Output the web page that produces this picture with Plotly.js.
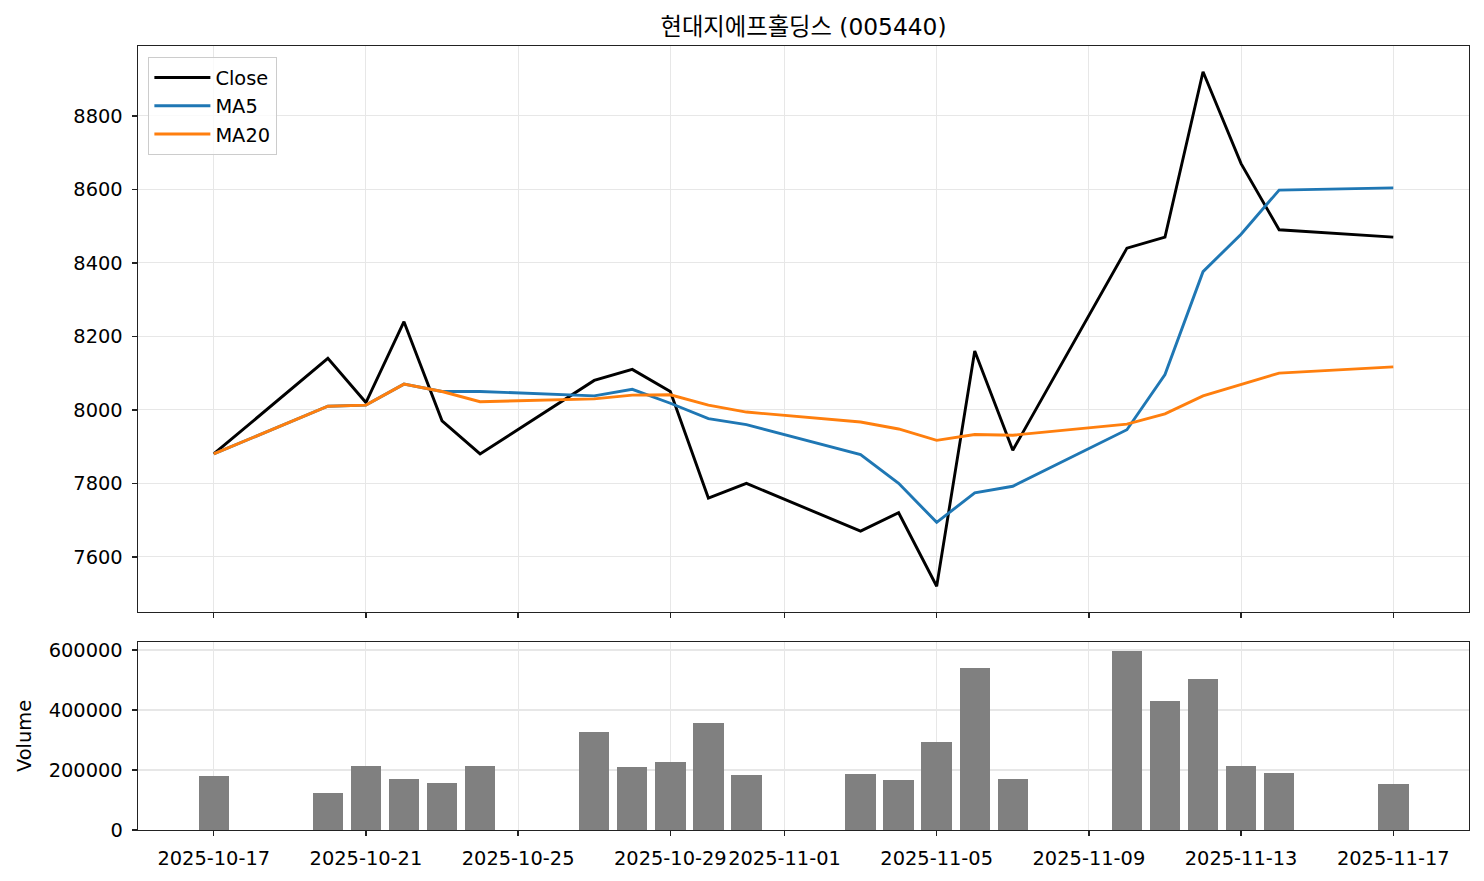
<!DOCTYPE html>
<html>
<head>
<meta charset="utf-8">
<script src="https://cdn.plot.ly/plotly-3.0.1.min.js"></script>
<style>html,body{margin:0;padding:0;background:#fff;}#chart{width:1484px;height:881px;}</style>
</head>
<body>
<div id="chart"></div>
<script>
const dates = ["2025-10-17","2025-10-20","2025-10-21","2025-10-22","2025-10-23","2025-10-24",
  "2025-10-27","2025-10-28","2025-10-29","2025-10-30","2025-10-31",
  "2025-11-03","2025-11-04","2025-11-05","2025-11-06","2025-11-07",
  "2025-11-10","2025-11-11","2025-11-12","2025-11-13","2025-11-14","2025-11-17"];
const closePrice = [7880,8140,8020,8240,7970,7880,8080,8110,8050,7760,7800,7670,7720,7520,8160,7890,8440,8470,8920,8670,8490,8470];
const ma5 = [7880,8010,8013,8070,8050,8050,8038,8056,8018,7976,7960,7878,7800,7694,7774,7792,7946,8096,8376,8478,8598,8604];
const ma20 = [7880,8010,8013,8070,8050,8022,8030,8040,8041,8013,7994,7967,7948,7917,7933,7931,7961,7989,8038,8070,8100,8117];
const volume = [180000,123000,213000,170000,157000,213000,327000,210000,227000,357000,183000,187000,167000,293000,540000,170000,597000,430000,503000,213000,190000,153000];
const tickDates = ["2025-10-17","2025-10-21","2025-10-25","2025-10-29","2025-11-01","2025-11-05","2025-11-09","2025-11-13","2025-11-17"];
const tickLabels = tickDates.slice();
const priceTicks = [7600,7800,8000,8200,8400,8600,8800];
const volumeTicks = [0,200000,400000,600000];
const titleText = "현대지에프홀딩스 (005440)";

const FONT = "DejaVu Sans, Noto Sans CJK KR, sans-serif";
const FS = 19.4;
const GRID = "#e7e7e7";
const AX = "#222222";
const DAY = 86400000;

const traces = [
  {x: dates, y: closePrice, type: "scatter", mode: "lines", name: "Close",
   line: {color: "#000000", width: 2.9}, xaxis: "x", yaxis: "y"},
  {x: dates, y: ma5, type: "scatter", mode: "lines", name: "MA5",
   line: {color: "#1f77b4", width: 2.9}, xaxis: "x", yaxis: "y"},
  {x: dates, y: ma20, type: "scatter", mode: "lines", name: "MA20",
   line: {color: "#ff7f0e", width: 2.9}, xaxis: "x", yaxis: "y"},
  {x: dates, y: volume, type: "bar", name: "Volume", showlegend: false,
   width: 0.8 * DAY, marker: {color: "#808080", line: {width: 0}},
   xaxis: "x2", yaxis: "y2"}
];

const xRange = ["2025-10-15 00:14:24", "2025-11-18 23:45:36"];
const commonX = {
  type: "date", range: xRange, tickmode: "array", tickvals: tickDates, ticktext: tickLabels,
  tickangle: 0,
  showgrid: true, gridcolor: GRID, gridwidth: 1.1,
  showline: true, mirror: true, linecolor: AX, linewidth: 1.4,
  ticks: "outside", ticklen: 5, tickwidth: 1.4, tickcolor: AX,
  zeroline: false, automargin: false,
  tickfont: {family: FONT, size: FS, color: "#000"}
};
const commonY = {
  showgrid: true, gridcolor: GRID, gridwidth: 1.1, zeroline: false,
  showline: true, mirror: true, linecolor: AX, linewidth: 1.4,
  ticks: "outside", ticklen: 5, tickwidth: 1.4, tickcolor: AX, automargin: false,
  ticklabelstandoff: 5,
  tickfont: {family: FONT, size: FS, color: "#000"}
};

const layout = {
  width: 1484, height: 881,
  margin: {l: 138, r: 15, t: 46, b: 51, pad: 0},
  paper_bgcolor: "#ffffff", plot_bgcolor: "#ffffff",
  font: {family: FONT, size: FS, color: "#000"},
  showlegend: true,
  bargap: 0,
  title: {text: titleText, font: {family: FONT, size: 23.3, color: "#000"},
          xref: "paper", x: 0.5, xanchor: "center", yref: "container", y: 1 - 27/881, yanchor: "middle"},
  legend: {x: 0.0075, y: 0.986, xanchor: "left", yanchor: "top",
           itemwidth: 56,
           bgcolor: "rgba(255,255,255,0.8)", bordercolor: "#cccccc", borderwidth: 1.4,
           font: {family: FONT, size: FS, color: "#000"}},
  xaxis: Object.assign({}, commonX, {anchor: "y", showticklabels: false}),
  xaxis2: Object.assign({}, commonX, {anchor: "y2", matches: "x", showticklabels: true, ticklabelstandoff: 5}),
  yaxis: Object.assign({}, commonY, {domain: [(830-612)/784, 1], range: [7450, 8990],
          tickmode: "array", tickvals: priceTicks}),
  yaxis2: Object.assign({}, commonY, {domain: [0, (830-642)/784], range: [0, 626850],
          tickmode: "array", tickvals: volumeTicks, tickformat: "d",
          title: {text: "Volume", font: {family: FONT, size: FS, color: "#000"}, standoff: 12}})
};

Plotly.newPlot("chart", traces, layout, {staticPlot: true, displayModeBar: false});
</script>
</body>
</html>
